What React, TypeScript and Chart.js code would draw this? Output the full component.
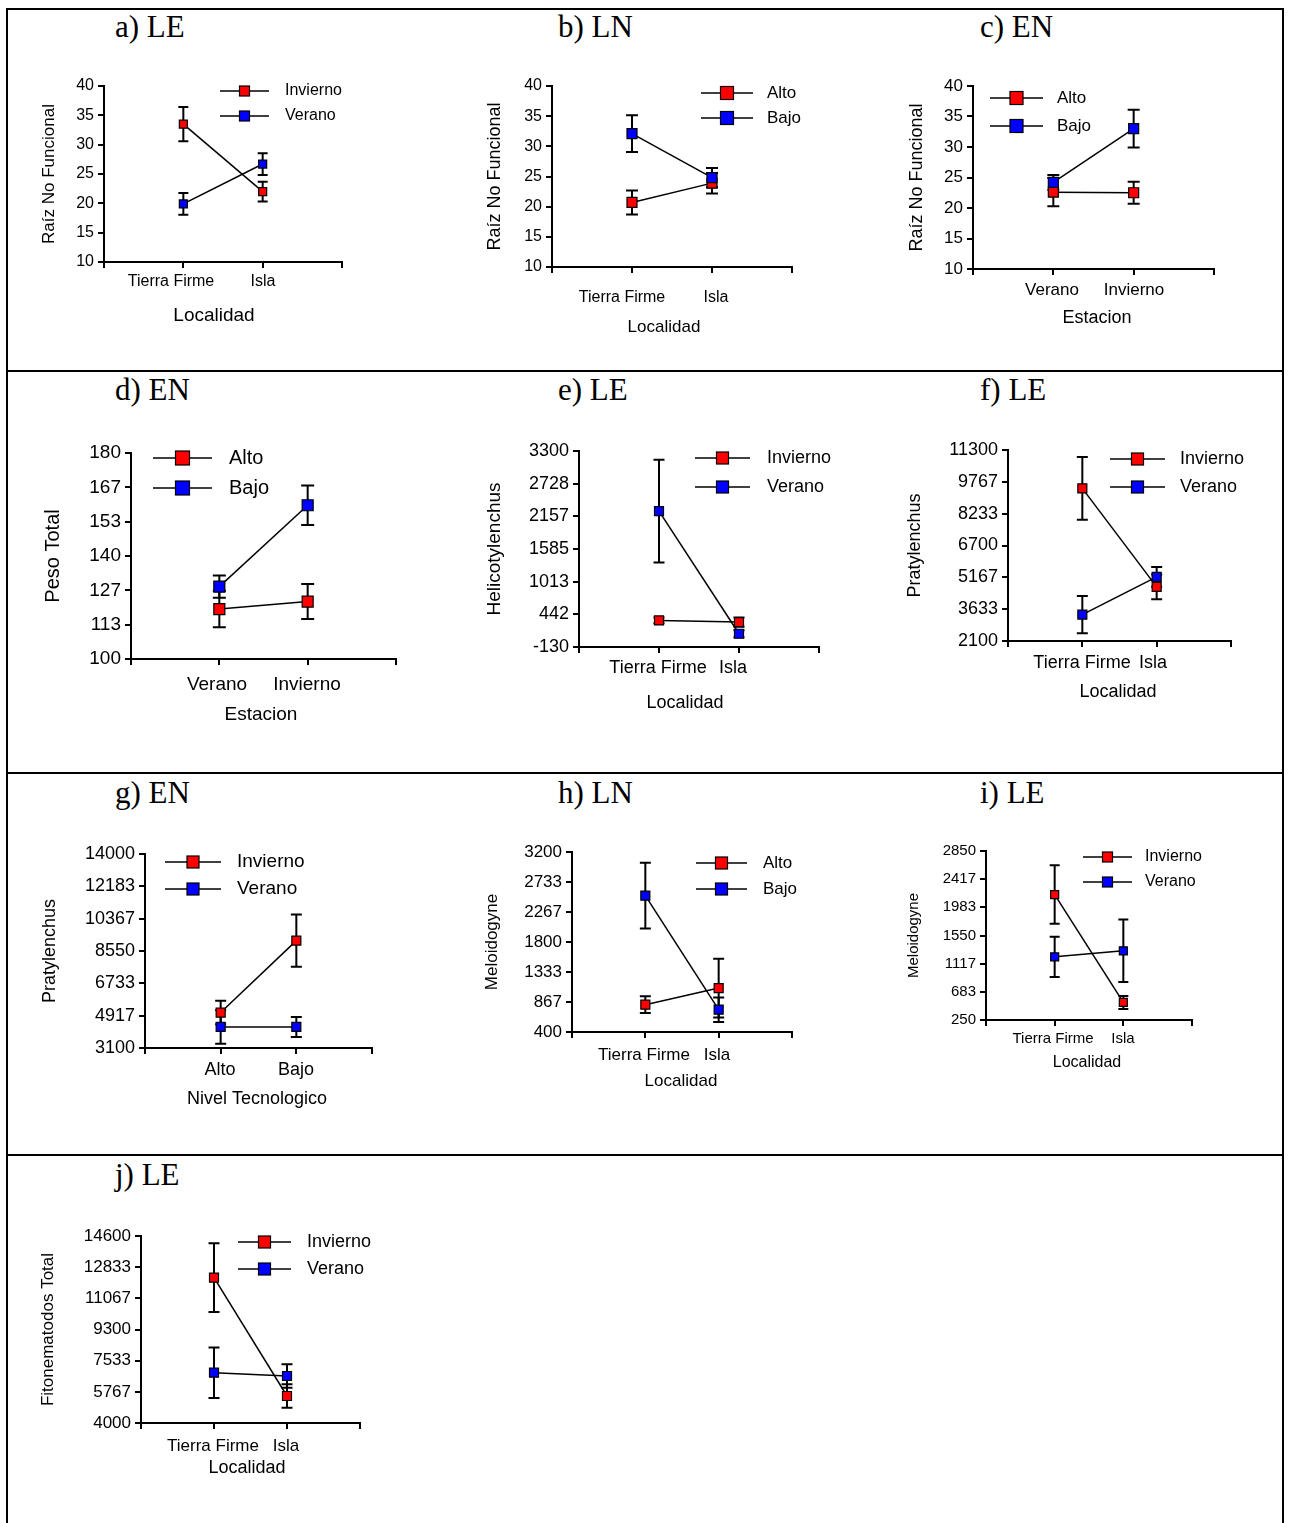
import React, { useEffect, useRef } from 'react';
import { Chart, registerables } from 'chart.js';

Chart.register(...registerables);

const FONT = "'Liberation Sans', Arial, sans-serif";
const RED = '#ff0000';
const BLUE = '#0000ff';

// ---------- data ----------
// a) LE
const aCategories = ['Tierra Firme', 'Isla'];
const aYTicks = ['10', '15', '20', '25', '30', '35', '40'];
const aInvierno = [33.5, 22.0];
const aInviernoErr = [2.9, 1.7];
const aVerano = [19.9, 26.7];
const aVeranoErr = [1.85, 1.85];

// b) LN
const bCategories = ['Tierra Firme', 'Isla'];
const bYTicks = ['10', '15', '20', '25', '30', '35', '40'];
const bAlto = [20.7, 23.9];
const bAltoErr = [2.0, 1.7];
const bBajo = [32.1, 24.8];
const bBajoErr = [3.05, 1.6];

// c) EN
const cCategories = ['Verano', 'Invierno'];
const cYTicks = ['10', '15', '20', '25', '30', '35', '40'];
const cAlto = [22.6, 22.5];
const cAltoErr = [2.3, 1.8];
const cBajo = [24.2, 33.0];
const cBajoErr = [1.2, 3.1];

// d) EN
const dCategories = ['Verano', 'Invierno'];
const dYTicks = ['100', '113', '127', '140', '153', '167', '180'];
const dAlto = [119.4, 122.3];
const dAltoErr = [7.1, 6.8];
const dBajo = [128.1, 159.7];
const dBajoErr = [4.3, 7.7];

// e) LE
const eCategories = ['Tierra Firme', 'Isla'];
const eYTicks = ['-130', '442', '1013', '1585', '2157', '2728', '3300'];
const eInvierno = [335, 306];
const eInviernoErr = [50, 80];
const eVerano = [2248, 102];
const eVeranoErr = [900, 60];

// f) LE
const fCategories = ['Tierra Firme', 'Isla'];
const fYTicks = ['2100', '3633', '5167', '6700', '8233', '9767', '11300'];
const fInvierno = [9451, 4706];
const fInviernoErr = [1510, 600];
const fVerano = [3371, 5188];
const fVeranoErr = [900, 480];

// g) EN
const gCategories = ['Alto', 'Bajo'];
const gYTicks = ['3100', '4917', '6733', '8550', '10367', '12183', '14000'];
const gInvierno = [5092, 9133];
const gInviernoErr = [660, 1470];
const gVerano = [4284, 4284];
const gVeranoErr = [940, 560];

// h) LN
const hCategories = ['Tierra Firme', 'Isla'];
const hYTicks = ['400', '867', '1333', '1800', '2267', '2733', '3200'];
const hAlto = [825, 1084];
const hAltoErr = [130, 457];
const hBajo = [2521, 747];
const hBajoErr = [510, 190];

// i) LE
const iCategories = ['Tierra Firme', 'Isla'];
const iYTicks = ['250', '683', '1117', '1550', '1983', '2417', '2850'];
const iInvierno = [2180, 521];
const iInviernoErr = [450, 100];
const iVerano = [1222, 1315];
const iVeranoErr = [310, 480];

// j) LE
const jCategories = ['Tierra Firme', 'Isla'];
const jYTicks = ['4000', '5767', '7533', '9300', '11067', '12833', '14600'];
const jInvierno = [12238, 5530];
const jInviernoErr = [1950, 660];
const jVerano = [6853, 6664];
const jVeranoErr = [1430, 660];

// ---------- layout ----------
type Series = { name: string; color: string; values: number[]; errors: number[] };
type Panel = {
  title: string;
  titleX: number;
  titleY: number;
  box: { left: number; top: number; right: number; bottom: number };
  yTicks: string[];
  categories: string[];
  catLabelX: number[];
  catLabelY: number;
  tickFont: number;
  xTitle: string;
  xTitleX: number;
  xTitleY: number;
  xTitleFont: number;
  yTitle: string;
  yTitleX: number;
  yTitleFont: number;
  legend: { x1: number; x2: number; ys: number[]; textX: number; font: number };
  marker: number;
  series: Series[];
};

const panels: Panel[] = [
  {
    title: 'a) LE', titleX: 115, titleY: 11,
    box: { left: 104, top: 86, right: 342, bottom: 262 },
    yTicks: aYTicks, categories: aCategories, catLabelX: [171, 263], catLabelY: 282, tickFont: 16,
    xTitle: 'Localidad', xTitleX: 214, xTitleY: 316, xTitleFont: 19,
    yTitle: 'Raíz No Funcional', yTitleX: 49, yTitleFont: 17,
    legend: { x1: 220, x2: 269, ys: [91, 116], textX: 285, font: 16 },
    marker: 8,
    series: [
      { name: 'Invierno', color: RED, values: aInvierno, errors: aInviernoErr },
      { name: 'Verano', color: BLUE, values: aVerano, errors: aVeranoErr },
    ],
  },
  {
    title: 'b) LN', titleX: 558, titleY: 11,
    box: { left: 552, top: 86, right: 792, bottom: 267 },
    yTicks: bYTicks, categories: bCategories, catLabelX: [622, 716], catLabelY: 298, tickFont: 16,
    xTitle: 'Localidad', xTitleX: 664, xTitleY: 327, xTitleFont: 17,
    yTitle: 'Raíz No Funcional', yTitleX: 495, yTitleFont: 18,
    legend: { x1: 701, x2: 753, ys: [93, 118], textX: 767, font: 17 },
    marker: 10,
    series: [
      { name: 'Alto', color: RED, values: bAlto, errors: bAltoErr },
      { name: 'Bajo', color: BLUE, values: bBajo, errors: bBajoErr },
    ],
  },
  {
    title: 'c) EN', titleX: 980, titleY: 11,
    box: { left: 973, top: 86, right: 1214, bottom: 269 },
    yTicks: cYTicks, categories: cCategories, catLabelX: [1052, 1134], catLabelY: 290, tickFont: 17,
    xTitle: 'Estacion', xTitleX: 1097, xTitleY: 318, xTitleFont: 18,
    yTitle: 'Raíz No Funcional', yTitleX: 917, yTitleFont: 18,
    legend: { x1: 990, x2: 1043, ys: [98, 126], textX: 1057, font: 17 },
    marker: 10,
    series: [
      { name: 'Alto', color: RED, values: cAlto, errors: cAltoErr },
      { name: 'Bajo', color: BLUE, values: cBajo, errors: cBajoErr },
    ],
  },
  {
    title: 'd) EN', titleX: 115, titleY: 374,
    box: { left: 131, top: 453, right: 396, bottom: 659 },
    yTicks: dYTicks, categories: dCategories, catLabelX: [217, 307], catLabelY: 685, tickFont: 19,
    xTitle: 'Estacion', xTitleX: 261, xTitleY: 715, xTitleFont: 19,
    yTitle: 'Peso Total', yTitleX: 53, yTitleFont: 20,
    legend: { x1: 153, x2: 212, ys: [458, 488], textX: 229, font: 20 },
    marker: 11,
    series: [
      { name: 'Alto', color: RED, values: dAlto, errors: dAltoErr },
      { name: 'Bajo', color: BLUE, values: dBajo, errors: dBajoErr },
    ],
  },
  {
    title: 'e) LE', titleX: 558, titleY: 374,
    box: { left: 579, top: 451, right: 819, bottom: 647 },
    yTicks: eYTicks, categories: eCategories, catLabelX: [658, 733], catLabelY: 668, tickFont: 18,
    xTitle: 'Localidad', xTitleX: 685, xTitleY: 703, xTitleFont: 18,
    yTitle: 'Helicotylenchus', yTitleX: 495, yTitleFont: 19,
    legend: { x1: 695, x2: 750, ys: [458, 487], textX: 767, font: 18 },
    marker: 9,
    series: [
      { name: 'Invierno', color: RED, values: eInvierno, errors: eInviernoErr },
      { name: 'Verano', color: BLUE, values: eVerano, errors: eVeranoErr },
    ],
  },
  {
    title: 'f) LE', titleX: 980, titleY: 374,
    box: { left: 1008, top: 450, right: 1231, bottom: 641 },
    yTicks: fYTicks, categories: fCategories, catLabelX: [1082, 1153], catLabelY: 663, tickFont: 18,
    xTitle: 'Localidad', xTitleX: 1118, xTitleY: 692, xTitleFont: 18,
    yTitle: 'Pratylenchus', yTitleX: 915, yTitleFont: 18,
    legend: { x1: 1110, x2: 1165, ys: [459, 487], textX: 1180, font: 18 },
    marker: 9,
    series: [
      { name: 'Invierno', color: RED, values: fInvierno, errors: fInviernoErr },
      { name: 'Verano', color: BLUE, values: fVerano, errors: fVeranoErr },
    ],
  },
  {
    title: 'g) EN', titleX: 115, titleY: 777,
    box: { left: 145, top: 854, right: 372, bottom: 1048 },
    yTicks: gYTicks, categories: gCategories, catLabelX: [220, 296], catLabelY: 1070, tickFont: 18,
    xTitle: 'Nivel Tecnologico', xTitleX: 257, xTitleY: 1099, xTitleFont: 18,
    yTitle: 'Pratylenchus', yTitleX: 50, yTitleFont: 18,
    legend: { x1: 165, x2: 221, ys: [862, 889], textX: 237, font: 19 },
    marker: 9,
    series: [
      { name: 'Invierno', color: RED, values: gInvierno, errors: gInviernoErr },
      { name: 'Verano', color: BLUE, values: gVerano, errors: gVeranoErr },
    ],
  },
  {
    title: 'h) LN', titleX: 558, titleY: 777,
    box: { left: 572, top: 852, right: 792, bottom: 1032 },
    yTicks: hYTicks, categories: hCategories, catLabelX: [644, 717], catLabelY: 1055, tickFont: 17,
    xTitle: 'Localidad', xTitleX: 681, xTitleY: 1081, xTitleFont: 17,
    yTitle: 'Meloidogyne', yTitleX: 492, yTitleFont: 17,
    legend: { x1: 696, x2: 747, ys: [863, 889], textX: 763, font: 17 },
    marker: 9,
    series: [
      { name: 'Alto', color: RED, values: hAlto, errors: hAltoErr },
      { name: 'Bajo', color: BLUE, values: hBajo, errors: hBajoErr },
    ],
  },
  {
    title: 'i) LE', titleX: 980, titleY: 777,
    box: { left: 986, top: 851, right: 1192, bottom: 1020 },
    yTicks: iYTicks, categories: iCategories, catLabelX: [1053, 1123], catLabelY: 1039, tickFont: 15,
    xTitle: 'Localidad', xTitleX: 1087, xTitleY: 1063, xTitleFont: 16,
    yTitle: 'Meloidogyne', yTitleX: 914, yTitleFont: 15,
    legend: { x1: 1083, x2: 1132, ys: [857, 882], textX: 1145, font: 16 },
    marker: 8,
    series: [
      { name: 'Invierno', color: RED, values: iInvierno, errors: iInviernoErr },
      { name: 'Verano', color: BLUE, values: iVerano, errors: iVeranoErr },
    ],
  },
  {
    title: 'j) LE', titleX: 115, titleY: 1159,
    box: { left: 141, top: 1236, right: 360, bottom: 1423 },
    yTicks: jYTicks, categories: jCategories, catLabelX: [213, 286], catLabelY: 1446, tickFont: 17,
    xTitle: 'Localidad', xTitleX: 247, xTitleY: 1468, xTitleFont: 18,
    yTitle: 'Fitonematodos Total', yTitleX: 48, yTitleFont: 17,
    legend: { x1: 238, x2: 291, ys: [1242, 1269], textX: 307, font: 18 },
    marker: 9,
    series: [
      { name: 'Invierno', color: RED, values: jInvierno, errors: jInviernoErr },
      { name: 'Verano', color: BLUE, values: jVerano, errors: jVeranoErr },
    ],
  },
];

const W = 125; // y-axis box width
const PT = 30; // top padding
const PR = 60; // right padding
const H = 90; // x-axis box height
const TL = 6; // tick length

function PanelChart({ p }: { p: Panel }) {
  const ref = useRef<HTMLCanvasElement>(null);
  const cl = p.box.left - W;
  const ct = p.box.top - PT;
  const cw = p.box.right - p.box.left + W + PR;
  const ch = p.box.bottom - p.box.top + PT + H;

  useEffect(() => {
    const canvas = ref.current;
    if (!canvas) return;
    const n = p.yTicks.length;
    const yMin = Number(p.yTicks[0]);
    const yMax = Number(p.yTicks[n - 1]);
    const spacing = (p.box.right - p.box.left) / 3;
    const labelPos = p.catLabelX.map((x) => (x - p.box.left) / spacing);
    const labelPad = Math.max(0, p.catLabelY - (p.box.bottom + TL) - 0.6 * p.tickFont);
    const font = (size: number) => ({ family: FONT, size });

    const overlay = {
      id: 'overlay' + p.title,
      beforeDatasetsDraw(chart: any) {
        const ctx = chart.ctx;
        const ys = chart.scales.y;
        ctx.save();
        ctx.strokeStyle = '#000';
        ctx.lineWidth = 2;
        p.series.forEach((s, si) => {
          const meta = chart.getDatasetMeta(si);
          s.values.forEach((v, i) => {
            const pt = meta.data[i];
            if (!pt) return;
            const x = pt.x;
            const yTop = ys.getPixelForValue(v + s.errors[i]);
            const yBot = ys.getPixelForValue(v - s.errors[i]);
            const hw = (p.marker + 2) / 2;
            ctx.beginPath();
            ctx.moveTo(x, yTop);
            ctx.lineTo(x, yBot);
            ctx.moveTo(x - hw, yTop);
            ctx.lineTo(x + hw, yTop);
            ctx.moveTo(x - hw, yBot);
            ctx.lineTo(x + hw, yBot);
            ctx.stroke();
          });
        });
        ctx.restore();
      },
      afterDraw(chart: any) {
        const ctx = chart.ctx;
        ctx.save();
        // legend
        p.series.forEach((s, si) => {
          const y = p.legend.ys[si] - ct;
          ctx.strokeStyle = '#000';
          ctx.lineWidth = 1.5;
          ctx.beginPath();
          ctx.moveTo(p.legend.x1 - cl, y);
          ctx.lineTo(p.legend.x2 - cl, y);
          ctx.stroke();
          const cx = (p.legend.x1 + p.legend.x2) / 2 - cl;
          const m = Math.round(p.marker * 1.3);
          ctx.fillStyle = s.color;
          ctx.fillRect(cx - m / 2, y - m / 2, m, m);
          ctx.lineWidth = 1.2;
          ctx.strokeRect(cx - m / 2, y - m / 2, m, m);
          ctx.fillStyle = '#000';
          ctx.font = `${p.legend.font}px ${FONT}`;
          ctx.textAlign = 'left';
          ctx.textBaseline = 'middle';
          ctx.fillText(s.name, p.legend.textX - cl, y);
        });
        // axis titles
        ctx.fillStyle = '#000';
        ctx.textAlign = 'center';
        ctx.textBaseline = 'middle';
        ctx.font = `${p.xTitleFont}px ${FONT}`;
        ctx.fillText(p.xTitle, p.xTitleX - cl, p.xTitleY - ct);
        ctx.translate(p.yTitleX - cl, (p.box.top + p.box.bottom) / 2 - ct);
        ctx.rotate(-Math.PI / 2);
        ctx.font = `${p.yTitleFont}px ${FONT}`;
        ctx.fillText(p.yTitle, 0, 0);
        ctx.restore();
      },
    };

    const chart = new Chart(canvas, {
      type: 'line',
      data: {
        datasets: p.series.map((s, si) => ({
          label: s.name,
          data: s.values.map((v, i) => ({ x: i + 1, y: v })),
          borderColor: '#000',
          borderWidth: 1.5,
          backgroundColor: s.color,
          pointStyle: 'rect',
          pointRadius: p.marker / Math.SQRT2,
          pointHoverRadius: p.marker / Math.SQRT2,
          pointBackgroundColor: s.color,
          pointBorderColor: '#000',
          pointBorderWidth: 1.2,
          order: p.series.length - si,
          tension: 0,
          fill: false,
        })),
      },
      options: {
        responsive: false,
        animation: false,
        devicePixelRatio: 1,
        events: [],
        layout: { padding: { left: 0, top: PT, right: PR, bottom: 0 } },
        plugins: { legend: { display: false }, tooltip: { enabled: false }, title: { display: false } },
        scales: {
          x: {
            type: 'linear',
            position: 'bottom',
            min: 0,
            max: 3,
            weight: 0,
            afterBuildTicks: (s: any) => {
              s.ticks = [0, 1, 2, 3].map((v) => ({ value: v }));
            },
            ticks: { display: false },
            grid: { display: true, drawOnChartArea: false, drawTicks: true, tickLength: TL, tickWidth: 2, lineWidth: 2, color: '#000' },
            border: { display: true, color: '#000', width: 2 },
            afterFit: (s: any) => {
              s.height = TL;
            },
          },
          xl: {
            type: 'linear',
            position: 'bottom',
            min: 0,
            max: 3,
            weight: 1,
            afterBuildTicks: (s: any) => {
              s.ticks = labelPos.map((v) => ({ value: v }));
            },
            ticks: {
              autoSkip: false,
              maxRotation: 0,
              minRotation: 0,
              padding: labelPad,
              font: font(p.tickFont),
              color: '#000',
              callback: (_v: any, i: number) => p.categories[i],
            },
            grid: { display: false, drawTicks: false },
            border: { display: false },
            afterFit: (s: any) => {
              s.height = H - TL;
            },
          },
          y: {
            type: 'linear',
            position: 'left',
            min: yMin,
            max: yMax,
            afterBuildTicks: (s: any) => {
              s.ticks = p.yTicks.map((_t, i) => ({ value: yMin + (i * (yMax - yMin)) / (n - 1) }));
            },
            ticks: {
              autoSkip: false,
              padding: 4,
              font: font(p.tickFont),
              color: '#000',
              callback: (_v: any, i: number) => p.yTicks[i],
            },
            grid: { drawOnChartArea: false, drawTicks: true, tickLength: TL, tickWidth: 2, lineWidth: 2, color: '#000' },
            border: { display: true, color: '#000', width: 2 },
            afterFit: (s: any) => {
              s.width = W;
            },
          },
        } as any,
      },
      plugins: [overlay],
    } as any);
    return () => chart.destroy();
  }, []);

  return (
    <canvas
      ref={ref}
      width={cw}
      height={ch}
      style={{ position: 'absolute', left: cl, top: ct, width: cw, height: ch }}
    />
  );
}

function Rule({ x, y, w, h }: { x: number; y: number; w: number; h: number }) {
  return <div style={{ position: 'absolute', left: x, top: y, width: w, height: h, background: '#000' }} />;
}

export default function App() {
  return (
    <div
      style={{
        position: 'absolute',
        left: 0,
        top: 0,
        width: 1289,
        height: 1523,
        overflow: 'hidden',
        background: '#fff',
      }}
    >
      {panels.map((p) => (
        <PanelChart key={p.title} p={p} />
      ))}
      <Rule x={6} y={8} w={1278} h={2} />
      <Rule x={6} y={8} w={2} h={1515} />
      <Rule x={1282} y={8} w={2} h={1515} />
      <Rule x={6} y={370} w={1278} h={2} />
      <Rule x={6} y={772} w={1278} h={2} />
      <Rule x={6} y={1154} w={1278} h={2} />
      {panels.map((p) => (
        <div
          key={'t' + p.title}
          style={{
            position: 'absolute',
            left: p.titleX,
            top: p.titleY,
            fontFamily: "'Liberation Serif', 'Times New Roman', serif",
            fontSize: 31,
            lineHeight: 1,
            color: '#000',
            whiteSpace: 'nowrap',
          }}
        >
          {p.title}
        </div>
      ))}
    </div>
  );
}
